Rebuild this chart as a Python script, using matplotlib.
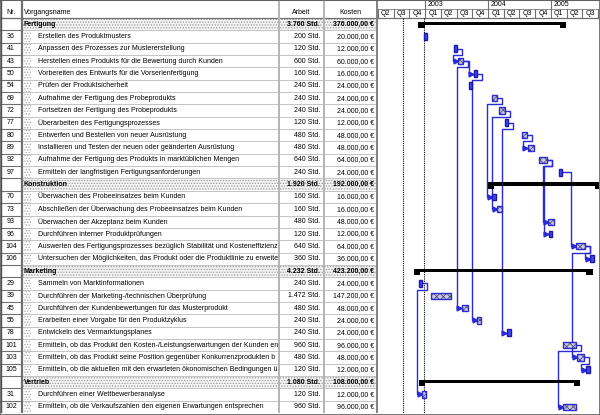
import matplotlib
matplotlib.use("Agg")
import matplotlib.pyplot as plt
from matplotlib.patches import Rectangle

plt.rcParams['font.family'] = ['Liberation Sans', 'DejaVu Sans']
plt.rcParams['hatch.linewidth'] = 0.6

# Zeilen der Tabelle (None = Sammelvorgang)
nummern = [None, 36, 41, 43, 50, 54, 69, 72, 77, 80, 89, 92, 97,
           None, 70, 73, 93, 96, 104, 106,
           None, 29, 39, 45, 55, 78, 101, 103, 105,
           None, 31, 102]
vorgaenge = [
    'Fertigung',
    'Erstellen des Produktmusters',
    'Anpassen des Prozesses zur Mustererstellung',
    'Herstellen eines Produkts für die Bewertung durch Kunden',
    'Vorbereiten des Entwurfs für die Vorserienfertigung',
    'Prüfen der Produktsicherheit',
    'Aufnahme der Fertigung des Probeprodukts',
    'Fortsetzen der Fertigung des Probeprodukts',
    'Überarbeiten des Fertigungsprozesses',
    'Entwerfen und Bestellen von neuer Ausrüstung',
    'Installieren und Testen der neuen oder geänderten Ausrüstung',
    'Aufnahme der Fertigung des Produkts in marktüblichen Mengen',
    'Ermitteln der langfristigen Fertigungsanforderungen',
    'Konstruktion',
    'Überwachen des Probeeinsatzes beim Kunden',
    'Abschließen der Überwachung des Probeeinsatzes beim Kunden',
    'Überwachen der Akzeptanz beim Kunden',
    'Durchführen interner Produktprüfungen',
    'Auswerten des Fertigungsprozesses bezüglich Stabilität und Kosteneffizienz',
    'Untersuchen der Möglichkeiten, das Produkt oder die Produktlinie zu erweitern',
    'Marketing',
    'Sammeln von Marktinformationen',
    'Durchführen der Marketing-/technischen Überprüfung',
    'Durchführen der Kundenbewertungen für das Musterprodukt',
    'Erarbeiten einer Vorgabe für den Produktzyklus',
    'Entwickeln des Vermarktungsplanes',
    'Ermitteln, ob das Produkt den Kosten-/Leistungserwartungen der Kunden entspricht',
    'Ermitteln, ob das Produkt seine Position gegenüber Konkurrenzprodukten behauptet',
    'Ermitteln, ob die aktuellen mit den erwarteten ökonomischen Bedingungen übereinstimmen',
    'Vertrieb',
    'Durchführen einer Wettbewerberanalyse',
    'Ermitteln, ob die Verkaufszahlen den eigenen Erwartungen entsprechen',
]
arbeit = [3760, 200, 120, 600, 160, 240, 240, 240, 120, 480, 480, 640, 240,
          1920, 160, 160, 480, 120, 640, 360,
          4232, 240, 1472, 480, 240, 240, 960, 480, 120,
          1080, 120, 960]
kosten = [376000, 20000, 12000, 60000, 16000, 24000, 24000, 24000, 12000, 48000, 48000, 64000, 24000,
          192000, 16000, 16000, 48000, 12000, 64000, 36000,
          423200, 24000, 147200, 48000, 24000, 24000, 96000, 48000, 12000,
          108000, 12000, 96000]

# Termine in Monaten ab Jan 2002
beginn = [10.7, 11.7, 17.5, 18.3, 21.3, 20.4, 24.8, 26.1, 27.2, 30.5, 31.6, 33.7, 37.6,
          24.0, 24.8, 25.7, 35.5, 35.6, 40.8, 43.5,
          9.9, 10.8, 13.1, 19.0, 21.9, 27.6, 38.3, 41.0, 42.7,
          10.8, 11.4, 38.3]
ende = [38.9, 12.4, 18.1, 19.2, 21.9, 20.9, 25.7, 27.2, 27.8, 31.4, 32.8, 35.3, 38.1,
        45.6, 25.5, 26.7, 36.6, 36.2, 42.5, 44.2,
        44.0, 11.4, 16.9, 20.2, 22.7, 28.4, 40.8, 42.3, 43.5,
        41.6, 12.2, 40.8]
schraffiert = [43, 69, 72, 80, 89, 92, 73, 93, 104, 39, 45, 55, 101, 103, 31, 102]
verknuepfungen = [(41, 43), (43, 45), (43, 50), (50, 55), (69, 70), (72, 73), (77, 78),
                  (80, 89), (92, 93), (92, 96), (97, 104), (104, 103), (104, 106),
                  (103, 105), (101, 102), (29, 31)]
jahre = [2003, 2004, 2005]
statuslinien = [7.7, 11.85]


def de_zahl(v, nachkomma=0):
    s = f"{v:,.{nachkomma}f}"
    return s.replace(",", "#").replace(".", ",").replace("#", ".")


fig = plt.figure(figsize=(6, 4.15), dpi=100)
renderer = fig.canvas.get_renderer()
RH = 12.34
HDR = 18 / RH
n = len(nummern)
FS = 5.0
blau = '#2a2ad8'

# ---------- Tabelle ----------
ax_t = fig.add_axes([0, 2 / 415, 378 / 600, 413 / 415])
ax_t.set_xlim(0, 378)
ax_t.set_ylim(n, -HDR)
ax_t.axis('off')

ax_t.text(11, -0.45, 'Nr.', ha='center', va='center', fontsize=FS)
ax_t.text(24, -0.45, 'Vorgangsname', ha='left', va='center', fontsize=FS)
ax_t.text(301, -0.45, 'Arbeit', ha='center', va='center', fontsize=FS)
ax_t.text(350, -0.45, 'Kosten', ha='center', va='center', fontsize=FS)

# rechter Rand der Namensspalte in Bildpunkten
x_max = ax_t.transData.transform((278.5, 0))[0]


def kuerzen(t):
    s = t.get_text()
    while t.get_window_extent(renderer).x1 > x_max and len(s) > 1:
        s = s[:-1]
        t.set_text(s)


for i, nr in enumerate(nummern):
    yc = i + 0.5
    if nr is None:
        ax_t.add_patch(Rectangle((22, i + 0.04), 355, 0.92, facecolor='#f4f4f4',
                                 edgecolor='#9a9a9a', lw=0, hatch='......'))
        t = ax_t.text(23.5, yc, vorgaenge[i], ha='left', va='center', fontsize=FS,
                      fontweight='bold')
        w = 'bold'
    else:
        ax_t.text(11, yc, str(nr), ha='center', va='center', fontsize=FS)
        ax_t.add_patch(Rectangle((24, i + 0.04), 7, 0.92, facecolor='white',
                                 edgecolor='#a0a0a0', lw=0, hatch='......'))
        t = ax_t.text(38, yc, vorgaenge[i], ha='left', va='center', fontsize=FS)
        w = 'normal'
    kuerzen(t)
    ax_t.text(320, yc, de_zahl(arbeit[i]) + ' Std.', ha='right', va='center',
              fontsize=FS, fontweight=w)
    ax_t.text(374, yc, de_zahl(kosten[i], 2) + ' €', ha='right', va='center',
              fontsize=FS, fontweight=w)

# Gitterlinien
for i in range(n + 1):
    ax_t.plot([0, 22], [i, i], color='#707070', lw=0.8)
    ax_t.plot([22, 377], [i, i], color='#c4c4c4', lw=0.7)
ax_t.plot([0, 377], [-HDR + 0.03, -HDR + 0.03], color='#707070', lw=0.8)
ax_t.plot([0, 377], [0, 0], color='#707070', lw=0.9)
for x, c, lw in [(0.6, '#505050', 1.0), (21.5, '#707070', 1.6), (279, '#b4b4b4', 1.4),
                 (324, '#b4b4b4', 1.4), (376.5, '#808080', 1.4)]:
    ax_t.plot([x, x], [-HDR, n], color=c, lw=lw)

# ---------- Gantt ----------
ax_g = fig.add_axes([378 / 600, 2 / 415, 221 / 600, 413 / 415])
x0, x1 = 3, 3 + 221 / 5.238
ax_g.set_xlim(x0, x1)
ax_g.set_ylim(n, -HDR)
ax_g.axis('off')

ymid = -HDR / 2
ax_g.plot([x0, x1], [-HDR + 0.03, -HDR + 0.03], color='#707070', lw=0.8)
ax_g.plot([x0, x1], [ymid, ymid], color='#909090', lw=0.7)
ax_g.plot([x0, x1], [0, 0], color='#707070', lw=0.9)
for j in jahre:
    m = (j - 2002) * 12
    ax_g.plot([m, m], [-HDR, ymid], color='#707070', lw=0.8)
    ax_g.text(m + 0.5, (-HDR + ymid) / 2, str(j), ha='left', va='center', fontsize=FS)
m = 3
while m < x1:
    ax_g.plot([m, m], [ymid, 0], color='#707070', lw=0.8)
    if m + 1.5 < x1:
        ax_g.text(m + 1.5, ymid / 2, 'Q%d' % ((m // 3) % 4 + 1), ha='center',
                  va='center', fontsize=FS)
    m += 3

for s in statuslinien:
    ax_g.plot([s, s], [0, n], color='black', lw=0.8, ls=(0, (1, 1)))

zeile = {nr: i for i, nr in enumerate(nummern) if nr is not None}

# Verknüpfungen
d = 1.0
for p, s in verknuepfungen:
    y1, y2 = zeile[p] + 0.5, zeile[s] + 0.5
    xa, xb = ende[zeile[p]], beginn[zeile[s]]
    if xb - d >= xa + 0.3:
        xs = [xa, xb - d, xb - d, xb]
        ys = [y1, y1, y2, y2]
    else:
        ym = zeile[p] + 1.0
        xs = [xa, xa + d, xa + d, xb - d, xb - d, xb]
        ys = [y1, y1, ym, ym, y2, y2]
    ax_g.plot(xs, ys, color=blau, lw=1.0, clip_on=False, zorder=2)
    ax_g.plot(xb - 0.45, y2, marker='>', ms=3.5, color=blau, mec=blau, zorder=3)

# Balken
for i, nr in enumerate(nummern):
    b, e = beginn[i], ende[i]
    if nr is None:
        ax_g.add_patch(Rectangle((b, i + 0.3), e - b, 0.3, facecolor='black',
                                 edgecolor='none', zorder=4))
        ax_g.add_patch(Rectangle((b, i + 0.3), 1.2, 0.55, facecolor='black',
                                 edgecolor='none', zorder=4))
        ax_g.add_patch(Rectangle((e - 1.2, i + 0.3), 1.2, 0.55, facecolor='black',
                                 edgecolor='none', zorder=4))
    elif nr in schraffiert:
        ax_g.add_patch(Rectangle((b, i + 0.25), e - b, 0.5, facecolor='#c8c8e0',
                                 edgecolor='#505070', lw=0, hatch='xxxxx', zorder=4))
        ax_g.add_patch(Rectangle((b, i + 0.25), e - b, 0.5, facecolor='none',
                                 edgecolor=blau, lw=1.0, zorder=5))
    else:
        ax_g.add_patch(Rectangle((b, i + 0.22), e - b, 0.56, facecolor='#4848e8',
                                 edgecolor='#1818b0', lw=1.0, zorder=4))

# Rahmen
fig.add_artist(Rectangle((0, 0), 1, 1, transform=fig.transFigure, fill=False,
                         edgecolor='#606060', lw=1.2))

fig.savefig('out.png', dpi=100)
